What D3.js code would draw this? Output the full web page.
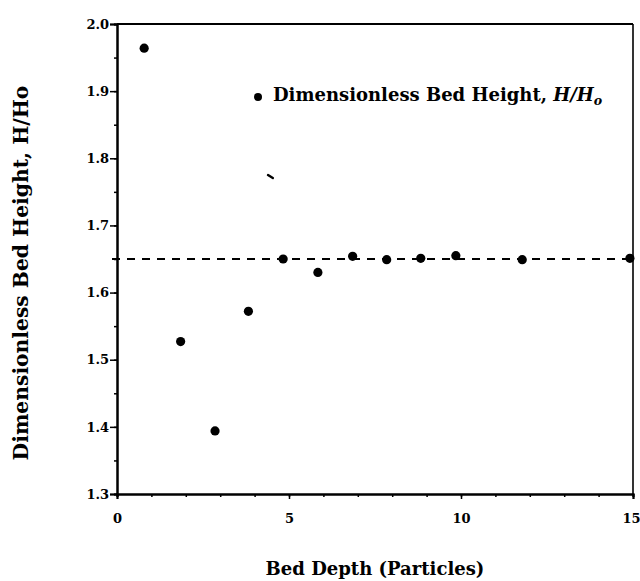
<!DOCTYPE html>
<html>
<head>
<meta charset="utf-8">
<script src="https://cdn.jsdelivr.net/npm/d3@7"></script>
<style>
  html, body { margin: 0; padding: 0; background: #fff; }
  svg { display: block; }
  text { font-family: "DejaVu Serif", "Liberation Serif", serif; font-weight: bold; fill: #000; }
</style>
</head>
<body>
<svg id="chart" width="640" height="581"></svg>
<script>
// Bed depth (particles) and the measured dimensionless bed height H/Ho
const bedDepth = [0.79, 1.85, 2.85, 3.82, 4.83, 5.84, 6.85, 7.84, 8.83, 9.85, 11.78, 14.91];
const bedHeight = [1.964, 1.527, 1.394, 1.572, 1.650, 1.630, 1.654, 1.649, 1.651, 1.655, 1.649, 1.651];

// Asymptotic bed height shown as the dashed reference line
const asymptote = 1.65;

// Short oblique stroke near the legend
const strokeX = [4.39, 4.53];
const strokeY = [1.775, 1.7705];

// Axis ticks
const xTickValues = [0, 5, 10, 15];
const xMinorTicks = d3.range(0, 16, 1);
const yTickValues = [1.3, 1.4, 1.5, 1.6, 1.7, 1.8, 1.9, 2.0];
const yMinorTicks = d3.range(1.3, 2.001, 0.05);

const xDomain = [0, 15];
const yDomain = [1.3, 2.0];

const svg = d3.select("#chart");
const plot = { left: 117, right: 633, top: 24, bottom: 494 };

const x = d3.scaleLinear().domain(xDomain).range([plot.left, plot.right]);
const y = d3.scaleLinear().domain(yDomain).range([plot.bottom, plot.top]);

// Pick a font size so that a string spans the wanted width
function fitSize(str, width, style) {
  const t = svg.append("text").attr("font-size", 100).attr("font-style", style || "normal").text(str);
  const w = t.node().getComputedTextLength();
  t.remove();
  return 100 * width / w;
}

// Frame: top and right edges
svg.append("line").attr("x1", plot.left).attr("x2", plot.right).attr("y1", plot.top).attr("y2", plot.top)
  .attr("stroke", "#000").attr("stroke-width", 2);
svg.append("line").attr("x1", plot.right).attr("x2", plot.right).attr("y1", plot.top).attr("y2", plot.bottom)
  .attr("stroke", "#000").attr("stroke-width", 1.6);

// X axis: minor ticks every particle, labels every five
const xAxisMinor = d3.axisBottom(x).tickValues(xMinorTicks).tickSize(3).tickFormat("");
const gxm = svg.append("g").attr("transform", `translate(0,${plot.bottom})`).call(xAxisMinor);
const xAxis = d3.axisBottom(x).tickValues(xTickValues).tickSize(5).tickPadding(15).tickFormat(d3.format("d"));
const gx = svg.append("g").attr("transform", `translate(0,${plot.bottom})`).call(xAxis);

// Y axis: minor ticks every 0.05, labels every 0.1
const yAxisMinor = d3.axisLeft(y).tickValues(yMinorTicks).tickSize(3).tickFormat("");
const gym = svg.append("g").attr("transform", `translate(${plot.left},0)`).call(yAxisMinor);
const yAxis = d3.axisLeft(y).tickValues(yTickValues).tickSize(7).tickPadding(1).tickFormat(d3.format(".1f"));
const gy = svg.append("g").attr("transform", `translate(${plot.left},0)`).call(yAxis);

[gxm, gx, gym, gy].forEach(g => {
  g.select(".domain").attr("stroke", "#000").attr("stroke-width", 2);
  g.selectAll(".tick line").attr("stroke", "#000").attr("stroke-width", 1.5);
  g.selectAll(".tick text").attr("font-size", 13).attr("font-family", "DejaVu Serif").attr("font-weight", "bold").attr("fill", "#000");
});
// Last x label sits against the right edge of the page
gx.selectAll(".tick text").filter(d => d === 15).attr("text-anchor", "end").attr("x", 640 - x(15));

// Dashed asymptote
svg.append("line")
  .attr("x1", x(0) - 5).attr("x2", x(15))
  .attr("y1", y(asymptote)).attr("y2", y(asymptote))
  .attr("stroke", "#000").attr("stroke-width", 1.8)
  .attr("stroke-dasharray", "8,7");

// Data points
svg.append("g").selectAll("circle")
  .data(bedDepth.map((d, i) => ({ x: d, y: bedHeight[i] })))
  .join("circle")
  .attr("cx", d => x(d.x))
  .attr("cy", d => y(d.y))
  .attr("r", 4.6)
  .attr("fill", "#000");

// Oblique stroke
svg.append("line")
  .attr("x1", x(strokeX[0])).attr("y1", y(strokeY[0]))
  .attr("x2", x(strokeX[1])).attr("y2", y(strokeY[1]))
  .attr("stroke", "#000").attr("stroke-width", 2.4).attr("stroke-linecap", "round");

// Legend
const legendSize = fitSize("Dimensionless Bed He", 227);
const legend = svg.append("g").attr("transform", "translate(258,97)");
legend.append("circle").attr("r", 4).attr("cx", 0).attr("cy", 0).attr("fill", "#000");
const lt = legend.append("text").attr("x", 15).attr("y", 4).attr("font-size", legendSize);
lt.append("tspan").text("Dimensionless Bed Height, ");
lt.append("tspan").attr("font-style", "italic").text("H/H");
lt.append("tspan").attr("font-style", "italic").attr("font-size", legendSize * 0.7).attr("dy", 4).text("o");

// Axis titles
const xTitle = "Bed Depth (Particles)";
svg.append("text")
  .attr("x", 375).attr("y", 575)
  .attr("text-anchor", "middle")
  .attr("font-size", fitSize(xTitle, 219))
  .text(xTitle);

const yTitle = "Dimensionless Bed Height, H/Ho";
svg.append("text")
  .attr("transform", "translate(28,273) rotate(-90)")
  .attr("text-anchor", "middle")
  .attr("font-size", fitSize(yTitle, 375))
  .text(yTitle);
</script>
</body>
</html>
